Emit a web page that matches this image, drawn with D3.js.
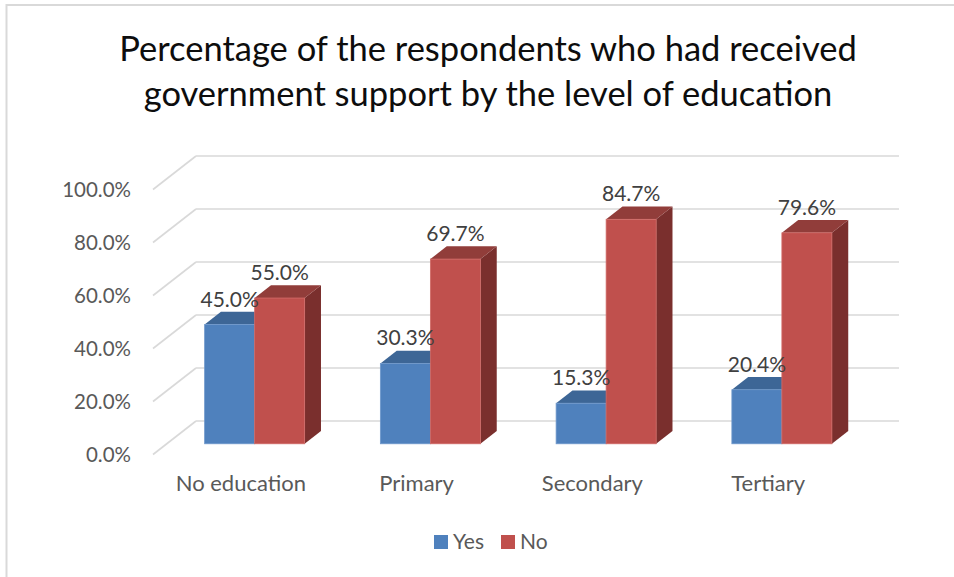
<!DOCTYPE html>
<html>
<head>
<meta charset="utf-8">
<script src="https://cdn.jsdelivr.net/npm/d3@7"></script>
<style>
  html, body { margin: 0; padding: 0; background: #fff; }
  svg { display: block; font-family: Lato, "Open Sans", sans-serif; }
</style>
</head>
<body>
<svg id="chart" width="954" height="577"></svg>
<script>
// Share of respondents who had received government support, by education level
const categories = ["No education", "Primary", "Secondary", "Tertiary"];
const seriesNames = ["Yes", "No"];
const yesValues = [45.0, 30.3, 15.3, 20.4];
const noValues = [55.0, 69.7, 84.7, 79.6];
const yTicks = [0, 20, 40, 60, 80, 100];
const titleLines = [
  "Percentage of the respondents who had received",
  "government support by the level of education"
];

const colors = {
  Yes: { front: "#4F81BD", top: "#3D6696", side: "#2F5079", edge: "#6F98CB" },
  No:  { front: "#C0504D", top: "#913D3A", side: "#7A2F2D", edge: "#D06A67" }
};

const svg = d3.select("#chart");

// outer frame
svg.append("rect")
  .attr("x", 6.5).attr("y", 5)
  .attr("width", 1000).attr("height", 1000)
  .attr("fill", "none").attr("stroke", "#D9D9D9").attr("stroke-width", 2);

// 3D projection: back wall plane, depth vector toward the viewer
const backLeft = 196, backRight = 899;
const depthX = -43, depthY = 33.5;
const zFront = 0.68, zBack = 0.30;

const x = d3.scaleBand().domain(categories).range([backLeft, backRight]);
const xInner = d3.scaleBand().domain(seriesNames).range([0, x.bandwidth()]).paddingOuter(0.757);
const yBack = d3.scaleLinear().domain([0, 100]).range([421, 156]);
const yFront = d3.scaleLinear().domain([0, 100]).range([421 + depthY, 156 + depthY]);

const P = (px, v, z) => [px + depthX * z, yBack(v) + depthY * z];

// gridlines: back wall horizontals and left-wall diagonals
const grid = svg.append("g").attr("stroke", "#D9D9D9").attr("stroke-width", 1.6).attr("fill", "none");
yTicks.forEach(t => {
  grid.append("line")
    .attr("x1", backLeft).attr("x2", backRight)
    .attr("y1", yBack(t)).attr("y2", yBack(t));
  const a = P(backLeft, t, 0), b = P(backLeft, t, 1);
  grid.append("line").attr("x1", a[0]).attr("y1", a[1]).attr("x2", b[0]).attr("y2", b[1]);
});

// y axis labels on the front edge
const yAxis = d3.axisLeft(yFront)
  .tickValues(yTicks)
  .tickSize(0).tickPadding(0)
  .tickFormat(d => d.toFixed(1) + "%");
const gy = svg.append("g").attr("transform", "translate(131,0)").call(yAxis);
gy.select(".domain").remove();
gy.selectAll("text").attr("font-size", 20.5).attr("fill", "#595959")
  .attr("font-family", "Lato, 'Open Sans', sans-serif");

// category labels along the front edge of the floor
const xFront = d3.scaleBand().domain(categories).range([backLeft + depthX, backRight + depthX]);
const xAxis = d3.axisBottom(xFront).tickSize(0).tickPadding(0);
const gx = svg.append("g").attr("transform", "translate(0,475.5)").call(xAxis);
gx.select(".domain").remove();
gx.selectAll("text").attr("font-size", 22).attr("fill", "#595959")
  .attr("font-family", "Lato, 'Open Sans', sans-serif");

// bars
const rows = categories.map((c, i) => ({ cat: c, Yes: yesValues[i], No: noValues[i] }));
const poly = pts => pts.map(p => p.join(",")).join(" ");
const barsG = svg.append("g");
rows.forEach(r => {
  seriesNames.forEach(s => {
    const v = r[s];
    const x0 = x(r.cat) + xInner(s);
    const x1 = x0 + xInner.bandwidth();
    const c = colors[s];
    const g = barsG.append("g");
    // right side face
    g.append("polygon")
      .attr("points", poly([P(x1, 0, zFront), P(x1, 0, zBack), P(x1, v, zBack), P(x1, v, zFront)]))
      .attr("fill", c.side);
    // top face
    g.append("polygon")
      .attr("points", poly([P(x0, v, zFront), P(x1, v, zFront), P(x1, v, zBack), P(x0, v, zBack)]))
      .attr("fill", c.top);
    // front face
    const fl = P(x0, v, zFront), fr = P(x1, 0, zFront);
    g.append("rect")
      .attr("x", fl[0]).attr("y", fl[1])
      .attr("width", fr[0] - fl[0]).attr("height", fr[1] - fl[1])
      .attr("fill", c.front).attr("stroke", c.edge).attr("stroke-width", 0.8);
  });
});

// value labels above each bar's front face
rows.forEach(r => {
  seriesNames.forEach(s => {
    const v = r[s];
    const cx = x(r.cat) + xInner(s) + xInner.bandwidth() / 2 + depthX * zFront;
    const topY = yBack(v) + depthY * zFront;
    svg.append("text")
      .attr("x", cx).attr("y", topY - 18)
      .attr("text-anchor", "middle")
      .attr("font-size", 21).attr("fill", "#404040")
      .text(v.toFixed(1) + "%");
  });
});

// title
svg.append("g").selectAll("text").data(titleLines).join("text")
  .attr("x", 488).attr("y", (d, i) => 61 + i * 45)
  .attr("text-anchor", "middle")
  .attr("font-size", 34.5).attr("fill", "#0D0D0D")
  .text(d => d);

// legend
const legend = svg.append("g").attr("transform", "translate(434,535)");
const legendItems = [{ name: "Yes", dx: 0 }, { name: "No", dx: 67 }];
legendItems.forEach(it => {
  legend.append("rect").attr("x", it.dx).attr("y", 0).attr("width", 14).attr("height", 14)
    .attr("fill", colors[it.name].front);
  legend.append("text").attr("x", it.dx + 19).attr("y", 14)
    .attr("font-size", 21).attr("fill", "#595959").text(it.name);
});
</script>
</body>
</html>
